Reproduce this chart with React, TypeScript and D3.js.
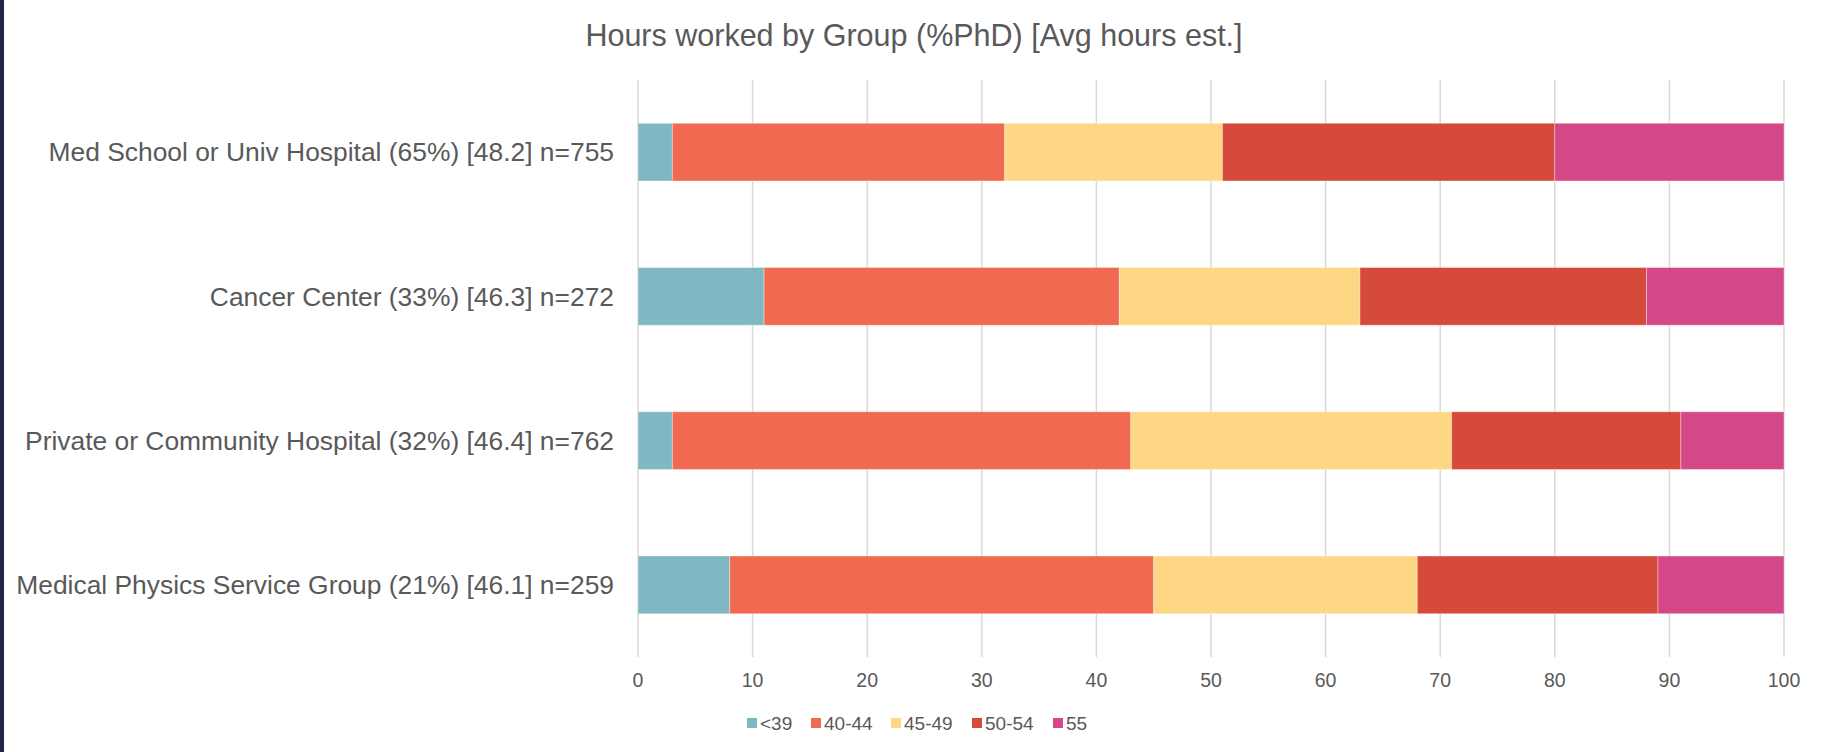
import * as d3 from "d3";

const width = 1825,
    height = 752;
const margin = { top: 80, right: 41, bottom: 95, left: 638 };

const groups = [
    "Med School or Univ Hospital (65%) [48.2] n=755",
    "Cancer Center (33%) [46.3] n=272",
    "Private or Community Hospital (32%) [46.4] n=762",
    "Medical Physics Service Group (21%) [46.1] n=259",
];
const bands = ["<39", "40-44", "45-49", "50-54", "55"];
const colors = ["#7fb7c3", "#ef6a51", "#fed785", "#d64a3b", "#d54887"];

// percent of each group in each hours band
const under39 = [3, 11, 3, 8];
const h40to44 = [29, 31, 40, 37];
const h45to49 = [19, 21, 28, 23];
const h50to54 = [29, 25, 20, 21];
const h55 = [20, 12, 9, 11];

const xTicks = [0, 10, 20, 30, 40, 50, 60, 70, 80, 90, 100];

const textColor = "#595959";
const font = "'Liberation Sans', Arial, sans-serif";

const App = () => {
    const rows = groups.map((g, i) => ({
        group: g,
        "<39": under39[i],
        "40-44": h40to44[i],
        "45-49": h45to49[i],
        "50-54": h50to54[i],
        "55": h55[i],
    }));
    const series = d3.stack().keys(bands)(rows as any);

    const x = d3
        .scaleLinear()
        .domain([0, 100])
        .range([margin.left, width - margin.right]);
    const y = d3
        .scaleBand()
        .domain(groups)
        .range([margin.top, height - margin.bottom])
        .paddingInner(0.6)
        .paddingOuter(0.3);

    // legend layout
    const legendX = [747, 811, 891, 972, 1053];

    return (
        <svg
            width={width}
            height={height}
            style={{ position: "absolute", left: 0, top: 0, display: "block", background: "#fff" }}
            fontFamily={font}
        >
            <rect x={0} y={0} width={4} height={height} fill="#22244a" />
            <text x={914} y={46} textAnchor="middle" fontSize={30.5} fill={textColor}>
                Hours worked by Group (%PhD) [Avg hours est.]
            </text>

            {xTicks.map((t) => (
                <g key={t}>
                    <line
                        x1={x(t)}
                        x2={x(t)}
                        y1={margin.top}
                        y2={height - margin.bottom}
                        stroke="#d9d9d9"
                        strokeWidth={1.5}
                    />
                    <text x={x(t)} y={687} textAnchor="middle" fontSize={19.5} fill={textColor}>
                        {t}
                    </text>
                </g>
            ))}

            {series.map((s, si) => (
                <g key={s.key} fill={colors[si]}>
                    {s.map((d, i) => (
                        <rect
                            key={i}
                            x={x(d[0])}
                            width={x(d[1]) - x(d[0])}
                            y={y(groups[i])}
                            height={y.bandwidth()}
                            stroke="#ffffff"
                            strokeOpacity={0.35}
                            strokeWidth={1}
                        />
                    ))}
                </g>
            ))}

            {groups.map((g) => (
                <text
                    key={g}
                    x={margin.left - 24}
                    y={(y(g) as number) + y.bandwidth() / 2}
                    dy="0.35em"
                    textAnchor="end"
                    fontSize={26.4}
                    fill={textColor}
                >
                    {g}
                </text>
            ))}

            {bands.map((b, i) => (
                <g key={b}>
                    <rect x={legendX[i]} y={718} width={10} height={10} fill={colors[i]} />
                    <text x={legendX[i] + 13} y={730} fontSize={19} fill={textColor}>
                        {b}
                    </text>
                </g>
            ))}
        </svg>
    );
};

export default App;
